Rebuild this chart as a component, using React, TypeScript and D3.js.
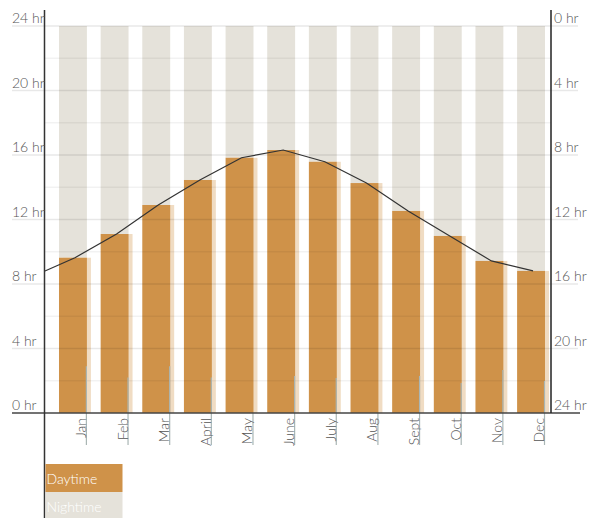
import React, { useEffect, useRef } from 'react';
import * as d3 from 'd3';

const months = ['Jan', 'Feb', 'Mar', 'April', 'May', 'June', 'July', 'Aug', 'Sept', 'Oct', 'Nov', 'Dec'];
const daylight = [9.63, 11.1, 12.9, 14.45, 15.83, 16.31, 15.58, 14.26, 12.53, 10.98, 9.43, 8.81];
const lineStart = 8.81;
const tickReach = [2.9, 2.2, 2.9, 2.2, 0, 2.3, 2.17, 0, 2.3, 1.86, 2.67, 1.99];
const leftTicks = [0, 4, 8, 12, 16, 20, 24];
const minorTicks = [2, 6, 10, 14, 18, 22];

const App = () => {
  const svgRef = useRef(null);

  useEffect(() => {
    document.body.style.margin = '0';
    const width = 589;
    const height = 518;
    const left = 45;
    const right = 551;
    const font = 'Lato, "Open Sans", sans-serif';

    const svg = d3.select(svgRef.current).attr('width', width).attr('height', height);
    svg.selectAll('*').remove();

    const x = d3.scaleBand().domain(months).range([left, right]).paddingInner(0.33).paddingOuter(0.24).align(0.7);
    const y = d3.scaleLinear().domain([0, 24]).range([413, 26]);
    const yNight = d3.scaleLinear().domain([0, 24]).range([26, 413]);

    // night bars
    svg
      .selectAll('.night')
      .data(months)
      .enter()
      .append('rect')
      .attr('x', (d) => x(d))
      .attr('y', y(24))
      .attr('width', x.bandwidth())
      .attr('height', (d, i) => y(daylight[i]) - y(24))
      .attr('fill', '#e5e2da');

    // day shadow
    svg
      .selectAll('.shadow')
      .data(months)
      .enter()
      .append('rect')
      .attr('x', (d) => x(d) + 4)
      .attr('y', (d, i) => y(daylight[i]))
      .attr('width', x.bandwidth())
      .attr('height', (d, i) => y(0) - y(daylight[i]))
      .attr('fill', '#f0dcc3');

    // day bars
    svg
      .selectAll('.day')
      .data(months)
      .enter()
      .append('rect')
      .attr('x', (d) => x(d))
      .attr('y', (d, i) => y(daylight[i]))
      .attr('width', x.bandwidth())
      .attr('height', (d, i) => y(0) - y(daylight[i]))
      .attr('fill', '#cf9249');

    // grid
    svg
      .selectAll('.minor')
      .data(minorTicks)
      .enter()
      .append('line')
      .attr('x1', left)
      .attr('x2', right)
      .attr('y1', (d) => y(d))
      .attr('y2', (d) => y(d))
      .attr('stroke', 'rgba(0,0,0,0.05)')
      .attr('stroke-width', 1.5);

    svg
      .selectAll('.major')
      .data(leftTicks.filter((d) => d > 0))
      .enter()
      .append('line')
      .attr('x1', 12)
      .attr('x2', 578)
      .attr('y1', (d) => y(d))
      .attr('y2', (d) => y(d))
      .attr('stroke', 'rgba(0,0,0,0.09)')
      .attr('stroke-width', 1.5);

    // month ticks
    svg
      .selectAll('.mtick')
      .data(months)
      .enter()
      .append('line')
      .attr('x1', (d) => x(d) + x.bandwidth() - 0.5)
      .attr('x2', (d) => x(d) + x.bandwidth() - 0.5)
      .attr('y1', (d, i) => y(tickReach[i]))
      .attr('y2', 445)
      .attr('stroke', '#aab6b4')
      .attr('stroke-width', 1.2);

    // daylight line
    const pts = [[left, lineStart], ...months.map((m, i) => [x(m) + x.bandwidth() / 2 + 2, daylight[i]])];
    const line = d3
      .line()
      .x((d) => d[0])
      .y((d) => y(d[1]));

    svg
      .append('path')
      .datum(pts)
      .attr('d', line)
      .attr('fill', 'none')
      .attr('stroke', '#333')
      .attr('stroke-width', 1.2);

    // axes lines
    svg.append('line').attr('x1', 12).attr('x2', 580).attr('y1', 413).attr('y2', 413).attr('stroke', '#444').attr('stroke-width', 1.5);
    svg.append('line').attr('x1', 44.5).attr('x2', 44.5).attr('y1', 10).attr('y2', 518).attr('stroke', '#333').attr('stroke-width', 1.5);
    svg.append('line').attr('x1', 551).attr('x2', 551).attr('y1', 10).attr('y2', 413).attr('stroke', '#222').attr('stroke-width', 1.5);

    // left labels
    svg
      .selectAll('.ylab')
      .data(leftTicks)
      .enter()
      .append('text')
      .attr('x', 12)
      .attr('y', (d) => y(d) - 3)
      .text((d) => `${d} hr`)
      .style('font-family', font)
      .style('font-weight', 300)
      .style('font-size', '14px')
      .attr('fill', '#555');

    // right labels
    svg
      .selectAll('.ylab2')
      .data(leftTicks)
      .enter()
      .append('text')
      .attr('x', 554)
      .attr('y', (d) => yNight(d) - 3)
      .text((d) => `${d} hr`)
      .style('font-family', font)
      .style('font-weight', 300)
      .style('font-size', '14px')
      .attr('fill', '#555');

    // month labels
    svg
      .selectAll('.xlab')
      .data(months)
      .enter()
      .append('text')
      .attr('transform', (d) => `translate(${x(d) + x.bandwidth() - 1},418) rotate(-90)`)
      .attr('text-anchor', 'end')
      .text((d) => d)
      .style('font-family', font)
      .style('font-weight', 300)
      .style('font-size', '14px')
      .attr('fill', '#555');

    // legend
    const legend = [
      { label: 'Daytime', color: '#cf9249' },
      { label: 'Nightime', color: '#e5e2da' },
    ];
    const lg = svg.selectAll('.legend').data(legend).enter().append('g').attr('transform', (d, i) => `translate(45.5,${464 + i * 28})`);
    lg.append('rect').attr('width', 77).attr('height', 28).attr('fill', (d) => d.color);
    lg
      .append('text')
      .attr('x', 1)
      .attr('y', 20)
      .text((d) => d.label)
      .style('font-family', font)
      .style('font-weight', 300)
      .style('font-size', '14px')
      .attr('fill', '#fff');
  }, []);

  return <svg ref={svgRef}></svg>;
};

export default App;
